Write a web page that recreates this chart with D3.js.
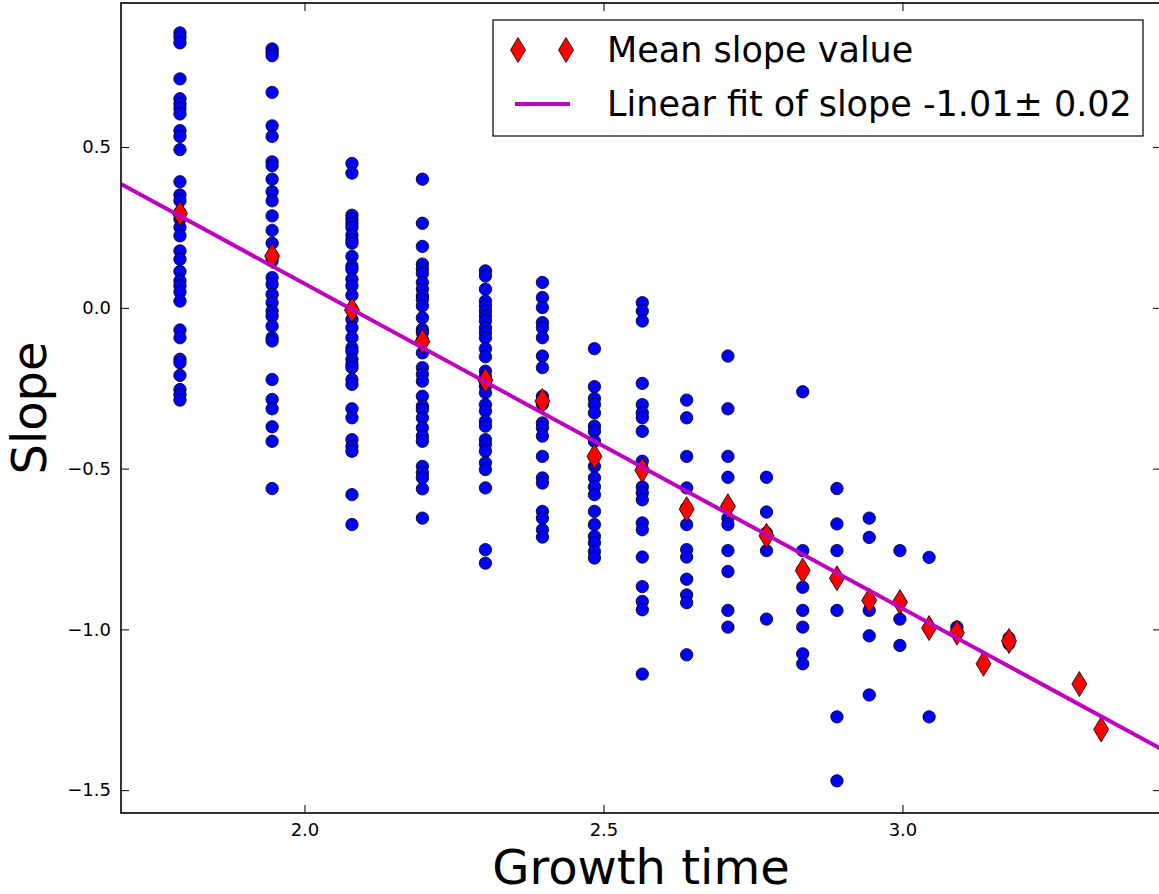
<!DOCTYPE html>
<html>
<head>
<meta charset="utf-8">
<script src="https://cdn.jsdelivr.net/npm/d3@7"></script>
<style>
  html, body { margin: 0; padding: 0; background: #fff; }
  svg { display: block; font-family: "DejaVu Sans", sans-serif; }
</style>
</head>
<body>
<svg id="chart" width="1159" height="894"></svg>
<script>
// Growth time (log scale values) for each column of samples
const growthTimes = [1.7918, 1.9459, 2.0794, 2.1972, 2.3026, 2.3979, 2.4849, 2.5649, 2.6391, 2.7081,
  2.7726, 2.8332, 2.8904, 2.9444, 2.9957, 3.0445, 3.0910, 3.1355, 3.1781, 3.2958, 3.3322];

// Individual slope values per column
const slopeSamples = [
  [0.855, 0.842, 0.824, 0.712, 0.650, 0.634, 0.620, 0.603, 0.551, 0.533, 0.492, 0.392, 0.351, 0.333, 0.297, 0.276, 0.250, 0.224, 0.177, 0.151, 0.113, 0.084, 0.068, 0.049, 0.021, -0.069, -0.093, -0.160, -0.171, -0.210, -0.254, -0.270, -0.287],
  [0.805, 0.795, 0.784, 0.670, 0.566, 0.533, 0.454, 0.442, 0.400, 0.361, 0.333, 0.286, 0.241, 0.201, 0.161, 0.146, 0.094, 0.073, 0.042, 0.016, -0.010, -0.026, -0.057, -0.093, -0.103, -0.223, -0.285, -0.314, -0.370, -0.415, -0.562],
  [0.449, 0.419, 0.288, 0.276, 0.263, 0.250, 0.226, 0.211, 0.201, 0.160, 0.130, 0.120, 0.089, 0.068, 0.039, -0.005, -0.036, -0.062, -0.093, -0.124, -0.135, -0.160, -0.176, -0.186, -0.223, -0.238, -0.314, -0.342, -0.410, -0.431, -0.446, -0.581, -0.674],
  [0.400, 0.263, 0.191, 0.136, 0.122, 0.107, 0.079, 0.058, 0.037, 0.026, 0.006, -0.031, -0.067, -0.077, -0.100, -0.140, -0.186, -0.207, -0.228, -0.275, -0.306, -0.316, -0.342, -0.373, -0.399, -0.415, -0.493, -0.513, -0.529, -0.563, -0.654],
  [0.115, 0.099, 0.058, 0.021, 0.006, -0.010, -0.026, -0.041, -0.062, -0.077, -0.093, -0.127, -0.152, -0.197, -0.215, -0.230, -0.244, -0.264, -0.301, -0.321, -0.353, -0.368, -0.410, -0.425, -0.446, -0.482, -0.503, -0.560, -0.752, -0.794],
  [0.079, 0.032, 0.001, -0.046, -0.062, -0.093, -0.150, -0.186, -0.275, -0.300, -0.358, -0.373, -0.399, -0.462, -0.529, -0.545, -0.633, -0.654, -0.690, -0.713],
  [-0.127, -0.245, -0.282, -0.301, -0.327, -0.368, -0.384, -0.415, -0.462, -0.493, -0.529, -0.557, -0.581, -0.633, -0.674, -0.711, -0.731, -0.758, -0.778],
  [0.016, -0.010, -0.041, -0.235, -0.301, -0.327, -0.342, -0.384, -0.477, -0.503, -0.557, -0.576, -0.597, -0.669, -0.690, -0.775, -0.867, -0.913, -0.939, -1.139],
  [-0.287, -0.342, -0.462, -0.560, -0.622, -0.674, -0.752, -0.775, -0.844, -0.893, -0.917, -1.079],
  [-0.150, -0.314, -0.462, -0.527, -0.617, -0.654, -0.674, -0.755, -0.820, -0.941, -0.993],
  [-0.527, -0.635, -0.700, -0.755, -0.968],
  [-0.261, -0.755, -0.815, -0.869, -0.941, -0.993, -1.076, -1.107],
  [-0.562, -0.672, -0.755, -0.841, -0.941, -1.272, -1.471],
  [-0.654, -0.714, -0.910, -0.941, -1.020, -1.204],
  [-0.755, -0.915, -0.968, -1.050],
  [-0.776, -0.996, -1.272],
  [-0.993, -1.012],
  [],
  [-1.027, -1.045],
  [],
  []
];

// Mean slope value per column
const meanSlopes = [0.293, 0.161, -0.007, -0.105, -0.225, -0.290, -0.462, -0.505, -0.626, -0.617,
  -0.709, -0.817, -0.841, -0.910, -0.915, -0.996, -1.010, -1.107, -1.036, -1.170, -1.311];

// Linear fit parameters
const fitSlope = -1.01;
const fitIntercept = 2.095;

const xTicks = [2.0, 2.5, 3.0];
const yTicks = [0.5, 0.0, -0.5, -1.0, -1.5];
const legendLabels = ["Mean slope value", "Linear fit of slope -1.01\u00B1 0.02"];

const svg = d3.select("#chart");
const L = 121, R = 1161, T = 3, B = 813;
const x = d3.scaleLinear().domain([1.6932, 3.4323]).range([L, R]);
const y = d3.scaleLinear().domain([0.948, -1.571]).range([T, B]);

const defs = svg.append("defs");
defs.append("clipPath").attr("id", "clip").append("rect")
  .attr("x", L).attr("y", T).attr("width", R - L).attr("height", B - T);

const plot = svg.append("g").attr("clip-path", "url(#clip)");

// Blue scatter points
const pts = [];
slopeSamples.forEach((col, i) => col.forEach(v => pts.push({ t: growthTimes[i], v })));
plot.selectAll("circle.pt").data(pts).join("circle")
  .attr("class", "pt")
  .attr("cx", d => x(d.t)).attr("cy", d => y(d.v)).attr("r", 6.2)
  .attr("fill", "#0000ff").attr("stroke", "#000").attr("stroke-width", 0.8);

// Red thin diamonds
const diamond = "M0,-12.5L7.5,0L0,12.5L-7.5,0Z";
plot.selectAll("path.mean").data(meanSlopes).join("path")
  .attr("class", "mean")
  .attr("d", diamond)
  .attr("transform", (d, i) => `translate(${x(growthTimes[i])},${y(d)})`)
  .attr("fill", "#ff0000").attr("stroke", "#000").attr("stroke-width", 0.8);

// Fit line
const xd = x.domain();
const fitPts = xd.map(t => [t, fitIntercept + fitSlope * t]);
plot.append("path")
  .attr("d", d3.line().x(d => x(d[0])).y(d => y(d[1]))(fitPts))
  .attr("fill", "none").attr("stroke", "#bf00bf").attr("stroke-width", 4);

// Axes
const fmt = d3.format(".1f");
const tickStyle = g => {
  g.select(".domain").remove();
  g.selectAll(".tick line").attr("stroke", "#000").attr("stroke-width", 1);
  g.selectAll(".tick text").attr("fill", "#000").style("font-family", "'DejaVu Sans', sans-serif").style("font-size", "18px");
};
svg.append("g").attr("transform", `translate(${L},0)`)
  .call(d3.axisLeft(y).tickValues(yTicks).tickFormat(fmt).tickSize(-8).tickPadding(10))
  .call(tickStyle);
svg.append("g").attr("transform", `translate(${R},0)`)
  .call(d3.axisRight(y).tickValues(yTicks).tickFormat("").tickSize(-8))
  .call(tickStyle);
svg.append("g").attr("transform", `translate(0,${B})`)
  .call(d3.axisBottom(x).tickValues(xTicks).tickFormat(fmt).tickSize(-8).tickPadding(10))
  .call(tickStyle);
svg.append("g").attr("transform", `translate(0,${T})`)
  .call(d3.axisTop(x).tickValues(xTicks).tickFormat("").tickSize(-8))
  .call(tickStyle);

// Spines
svg.append("rect").attr("x", L).attr("y", T).attr("width", R - L).attr("height", B - T)
  .attr("fill", "none").attr("stroke", "#000").attr("stroke-width", 1.6);

// Axis titles
svg.append("text").attr("x", (L + R) / 2).attr("y", 884)
  .attr("text-anchor", "middle").style("font-size", "48px").text("Growth time");
svg.append("text").attr("transform", `translate(46,${(T + B) / 2}) rotate(-90)`)
  .attr("text-anchor", "middle").style("font-size", "48px").text("Slope");

// Legend
const lg = svg.append("g");
lg.append("rect").attr("x", 493).attr("y", 20).attr("width", 650).attr("height", 116)
  .attr("fill", "#fff").attr("stroke", "#000").attr("stroke-width", 1.2);
[518, 566].forEach(px => {
  lg.append("path").attr("d", diamond).attr("transform", `translate(${px},50)`)
    .attr("fill", "#ff0000").attr("stroke", "#000").attr("stroke-width", 0.8);
});
lg.append("line").attr("x1", 515).attr("x2", 570).attr("y1", 104).attr("y2", 104)
  .attr("stroke", "#bf00bf").attr("stroke-width", 4);
lg.selectAll("text.lab").data(legendLabels).join("text")
  .attr("class", "lab")
  .attr("x", 607).attr("y", (d, i) => 62 + i * 54)
  .style("font-size", "35px").text(d => d);
</script>
</body>
</html>
